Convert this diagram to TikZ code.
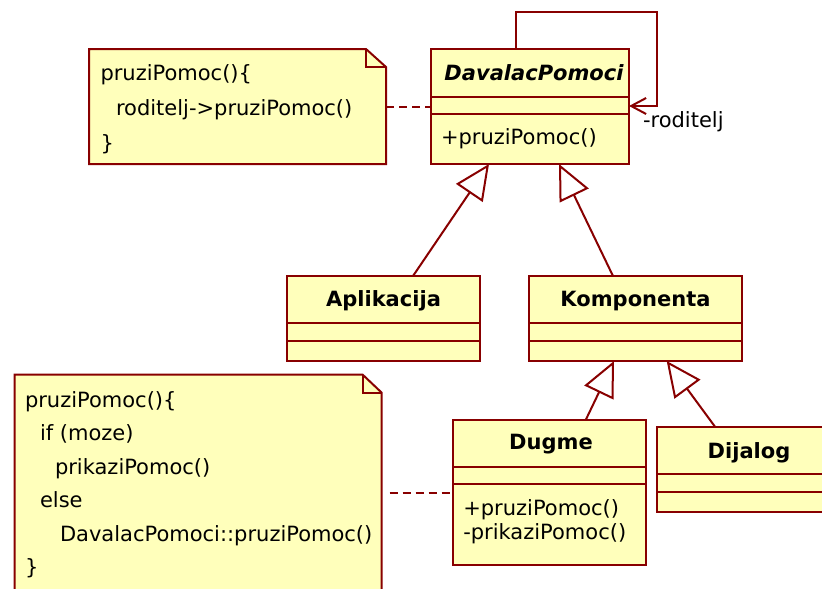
\documentclass[tikz,border=0pt]{standalone}
\usepackage{fontspec}
\setmainfont{DejaVu Sans}
\usetikzlibrary{arrows.meta}
\definecolor{umlred}{RGB}{136,0,0}
\definecolor{umlfill}{RGB}{255,255,187}
\tikzset{
  txt/.style={font=\fontsize{21}{24}\selectfont, inner sep=0pt, outer sep=0pt, text=black},
  bname/.style={font=\fontsize{21}{24}\selectfont\bfseries, inner sep=0pt, outer sep=0pt, text=black},
  cls/.style={draw=umlred, fill=umlfill, line width=2pt, inner sep=0pt, outer sep=0pt, rectangle},
  sepline/.style={draw=umlred, line width=2pt},
  notearea/.style={inner sep=0pt, outer sep=0pt, rectangle},
  noteshape/.style={draw=umlred, fill=umlfill, line width=2pt, line join=miter},
  inh/.style={draw=umlred, line width=2pt, -{Triangle[open, length=35pt, width=32pt, fill=white]}},
  assoc/.style={draw=umlred, line width=2pt, -{Straight Barb[length=15pt, width=16pt]}},
  anchorline/.style={draw=umlred, line width=2pt, dash pattern=on 8pt off 5pt},
}
\begin{document}
\begin{tikzpicture}[x=1pt, y=-1pt]
\useasboundingbox (0,0) rectangle (822,589);
\clip (0,0) rectangle (822,589);

% ---------- note 1 ----------
\node[notearea, minimum width=297pt, minimum height=115pt, anchor=north west] (n1) at (89,49) {};
\draw[noteshape] (n1.north west) -- ([xshift=-20pt]n1.north east) -- ([yshift=-18pt]n1.north east) -- (n1.south east) -- (n1.south west) -- cycle;
\draw[noteshape, fill=none] ([xshift=-20pt]n1.north east) |- ([yshift=-18pt]n1.north east);
\node[txt, anchor=base west] (n1a) at (100.5,80) {pruziPomoc()\{};
\node[txt, anchor=base west] (n1b) at (116,115) {roditelj->pruziPomoc()};
\node[txt, anchor=base west] (n1c) at (100.5,150) {\}};

% ---------- note 2 ----------
\node[notearea, minimum width=367pt, minimum height=250pt, anchor=north west] (n2) at (14.5,374.5) {};
\draw[noteshape] (n2.north west) -- ([xshift=-19pt]n2.north east) -- ([yshift=-18pt]n2.north east) -- (n2.south east) -- (n2.south west) -- cycle;
\draw[noteshape, fill=none] ([xshift=-19pt]n2.north east) |- ([yshift=-18pt]n2.north east);
\node[txt, anchor=base west] (n2a) at (25,407) {pruziPomoc()\{};
\node[txt, anchor=base west] (n2b) at (40,440.5) {if (moze)};
\node[txt, anchor=base west] (n2c) at (55,474.5) {prikaziPomoc()};
\node[txt, anchor=base west] (n2d) at (40,507) {else};
\node[txt, anchor=base west] (n2e) at (60,541.5) {DavalacPomoci::pruziPomoc()};
\node[txt, anchor=base west] (n2f) at (25,574.5) {\}};

% ---------- DavalacPomoci ----------
\node[cls, minimum width=198pt, minimum height=115pt, anchor=north west] (dp) at (431,49) {};
\draw[sepline] ([yshift=-48pt]dp.north west) -- ([yshift=-48pt]dp.north east);
\draw[sepline] ([yshift=-64.5pt]dp.north west) -- ([yshift=-64.5pt]dp.north east);
\node[bname, font=\fontsize{21}{24}\selectfont\bfseries\itshape, anchor=base] (dpn) at (534,80) {DavalacPomoci};
\node[txt, anchor=base west] (dpo) at (441,144) {+pruziPomoc()};

% ---------- Aplikacija ----------
\node[cls, minimum width=193pt, minimum height=85pt, anchor=north west] (ap) at (287,276) {};
\draw[sepline] ([yshift=-47.3pt]ap.north west) -- ([yshift=-47.3pt]ap.north east);
\draw[sepline] ([yshift=-64.7pt]ap.north west) -- ([yshift=-64.7pt]ap.north east);
\node[bname, anchor=base] (apn) at (383.5,306.7) {Aplikacija};

% ---------- Komponenta ----------
\node[cls, minimum width=213pt, minimum height=85pt, anchor=north west] (ko) at (529,276) {};
\draw[sepline] ([yshift=-47.3pt]ko.north west) -- ([yshift=-47.3pt]ko.north east);
\draw[sepline] ([yshift=-64.7pt]ko.north west) -- ([yshift=-64.7pt]ko.north east);
\node[bname, anchor=base] (kon) at (635.5,306.7) {Komponenta};

% ---------- Dugme ----------
\node[cls, minimum width=193pt, minimum height=145pt, anchor=north west] (dg) at (453,420) {};
\draw[sepline] ([yshift=-46.7pt]dg.north west) -- ([yshift=-46.7pt]dg.north east);
\draw[sepline] ([yshift=-64pt]dg.north west) -- ([yshift=-64pt]dg.north east);
\node[bname, anchor=base] (dgn) at (551,449.5) {Dugme};
\node[txt, anchor=base west] (dgo1) at (463.3,515.7) {+pruziPomoc()};
\node[txt, anchor=base west] (dgo2) at (463.3,539) {-prikaziPomoc()};

% ---------- Dijalog ----------
\node[cls, minimum width=184pt, minimum height=85.3pt, anchor=north west] (dj) at (657,426.7) {};
\draw[sepline] ([yshift=-47.3pt]dj.north west) -- ([yshift=-47.3pt]dj.north east);
\draw[sepline] ([yshift=-65pt]dj.north west) -- ([yshift=-65pt]dj.north east);
\node[bname, anchor=base] (djn) at (749,458.3) {Dijalog};

% ---------- generalizations ----------
\draw[inh] ([xshift=126pt]ap.north west) -- ([xshift=58pt]dp.south west);
\draw[inh] ([xshift=84pt]ko.north west) -- ([xshift=128pt]dp.south west);
\draw[inh] ([xshift=132.7pt]dg.north west) -- ([xshift=85pt]ko.south west);
\draw[inh] ([xshift=58pt]dj.north west) -- ([xshift=137.7pt]ko.south west);

% ---------- self association ----------
\draw[assoc] ([xshift=85pt]dp.north west) -- ++(0,-37) -- ++(141,0) -- ++(0,94) -- ([yshift=-57pt]dp.north east);
\node[txt, anchor=base west] (rl) at (643,127) {-roditelj};

% ---------- note anchors ----------
\draw[anchorline] (n1.east |- dp.west) -- (dp.west);
\draw[anchorline, shorten <=8pt] (n2.east |- dg.west) -- (dg.west);
\end{tikzpicture}
\end{document}
